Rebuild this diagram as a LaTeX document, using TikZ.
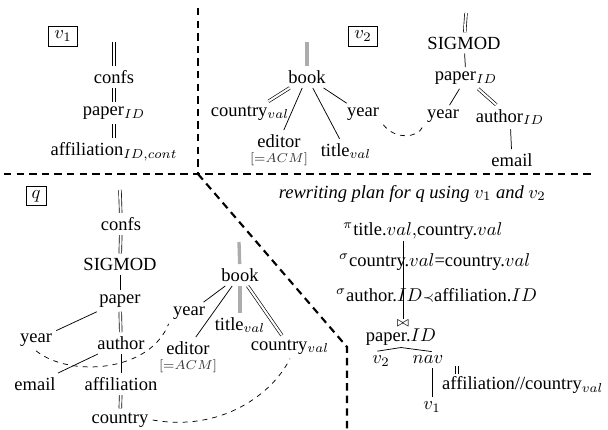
\documentclass[tikz,border=0pt]{standalone}
\usepackage{fontspec}
\setmainfont{Liberation Serif}
\usetikzlibrary{positioning}

\begin{document}
\begin{tikzpicture}[
    x=0.54pt, y=-0.54pt,
    lbl/.style={inner sep=2.2pt},
    vtag/.style={draw, thin, inner xsep=3pt, inner ysep=2.5pt},
    note/.style={inner sep=0.5pt, font=\scriptsize, text=black!80},
    tline/.style={draw, thin},
    dline/.style={draw, double, double distance=1.1pt, line width=0.35pt},
    gbar/.style={draw=gray!65, line width=1.8pt},
    link/.style={draw, thin, dash pattern=on 2.7pt off 2.7pt},
    divider/.style={draw, line width=1.15pt, dash pattern=on 4pt off 2.8pt}
]
\useasboundingbox (0,0) rectangle (608,430);

% panel borders
\coordinate (vtop) at (198,8);
\coordinate (cross) at (198,174);
\coordinate (hleft) at (4,174);
\coordinate (hright) at (594,174);
\coordinate (bend) at (347,347);
\coordinate (vbot) at (347,430);
\draw[divider] (vtop) -- (cross);
\draw[divider] (hleft) -- (hright);
\draw[divider] (cross) -- (bend) -- (vbot);

% view v1
\node[vtag] (v1box) at (63,36) {$v_1$};
\coordinate (v1top) at (114,42);
\node[lbl] (cf1) at (114,77) {confs};
\node[lbl] (pp1) at (114,113) {paper$_{ID}$};
\node[lbl] (af1) at (114,152) {affiliation$_{ID,cont}$};

\draw[dline] (v1top) -- (cf1);
\draw[dline] (cf1) -- (pp1);
\draw[dline] (pp1) -- (af1);

% view v2
\node[vtag] (v2box) at (363,36) {$v_2$};
\coordinate (bktop2) at (307,42);
\node[lbl] (bk2) at (307,77) {book};
\node[lbl] (cv2) at (250,113) {country$_{val}$};
\node[lbl] (ed2) at (279,141) {editor};
\node[note, below=0pt of ed2] (acm2) {$[{=}ACM]$};
\node[lbl] (ti2) at (346,151) {title$_{val}$};
\node[lbl] (yr2) at (363,114) {year};

\coordinate (sgtop2) at (466,13);
\node[lbl] (sg2) at (464,43) {SIGMOD};
\node[lbl] (pp2) at (466,78) {paper$_{ID}$};
\node[lbl] (yr3) at (443,116) {year};
\node[lbl] (au2) at (510,117) {author$_{ID}$};
\node[lbl] (em2) at (512,160) {email};

\draw[gbar] (bktop2) -- (bk2);
\draw[dline] (bk2) -- (cv2);
\draw[tline] (bk2) -- (ed2);
\draw[tline] (bk2) -- (ti2);
\draw[tline] (bk2) -- (yr2);
\draw[dline] (sgtop2) -- (sg2);
\draw[tline] (sg2) -- (pp2);
\draw[tline] (pp2) -- (yr3);
\draw[dline] (pp2) -- (au2);
\draw[tline] (au2) -- (em2);
\draw[link] (yr2.south east) .. controls (395,140) and (418,138) .. (yr3.south west);

% query q
\node[vtag, inner ysep=2pt] (qbox) at (36,196) {$q$};
\coordinate (qtop) at (120,190);
\node[lbl] (cfq) at (121,224) {confs};
\node[lbl] (sgq) at (120,264) {SIGMOD};
\node[lbl] (ppq) at (120,301) {paper};
\node[lbl] (yrq) at (36,340) {year};
\node[lbl] (auq) at (121,343) {author};
\node[lbl] (emq) at (35,384) {email};
\node[lbl] (afq) at (121,384) {affiliation};
\node[lbl] (coq) at (120,420) {country};

\coordinate (bktopq) at (239,242);
\node[lbl] (bkq) at (240,275) {book};
\node[lbl] (yrb) at (189,313) {year};
\node[lbl] (edq) at (188,348) {editor};
\node[note, below=0pt of edq] (acmq) {$[{=}ACM]$};
\node[lbl] (tiq) at (240,325) {title$_{val}$};
\node[lbl] (cvq) at (290,347) {country$_{val}$};

\draw[dline] (qtop) -- (cfq);
\draw[dline] (cfq) -- (sgq);
\draw[tline] (sgq) -- (ppq);
\draw[dline] (ppq) -- (auq);
\draw[tline] (ppq) -- (yrq);
\draw[tline] (auq) -- (afq);
\draw[tline] (auq) -- (emq);
\draw[dline] (afq) -- (coq);
\draw[gbar] (bktopq) -- (bkq);
\draw[tline] (bkq) -- (yrb);
\draw[tline] (bkq) -- (edq);
\draw[gbar] (bkq) -- (tiq);
\draw[dline] (bkq) -- (cvq);
\draw[link] (yrq.south) .. controls (70,378) and (150,372) .. (yrb.south west);
\draw[link] (coq.east) .. controls (220,432) and (272,395) .. (cvq.south);

% rewriting plan
\node[inner sep=1pt, anchor=base east] (rw) at (548,198) {\itshape rewriting plan for q using $v_1$ and $v_2$};
\node[inner sep=1pt, anchor=base west] (pi) at (341,235) {\textsuperscript{$\pi$}title.$val,$country.$val$};
\node[inner sep=1pt, anchor=base west] (s1) at (337,266) {\textsuperscript{$\sigma$}country.$val$=country.$val$};
\node[inner sep=1pt, anchor=base west] (s2) at (334,301) {\textsuperscript{$\sigma$}author.$ID${\scriptsize$\prec$}affiliation.$ID$};
\node[inner sep=0.5pt, font=\scriptsize] (jn) at (403,323) {$\bowtie$};
\node[inner sep=1pt] (jid) at (401,337) {paper.$ID$};
\node[lbl] (pv2) at (381,361) {$v_2$};
\node[lbl] (nav) at (428,360) {$nav$};
\node[lbl] (pv1) at (432,407) {$v_1$};
\node[inner sep=1pt, anchor=west] (nl) at (440,385) {affiliation//country$_{val}$};
\coordinate (nltop) at (457,366);

\draw[tline] (jn.north) -- (jn.north |- pi.south);
\draw[tline] ([xshift=-2pt]pv2.north) -- (jid.south) -- ([xshift=2pt]nav.north);
\draw[tline] (pv1.north) -- (pv1.north |- nav.south);
\draw[dline] (nltop) -- (nltop |- nl.north);

\end{tikzpicture}
\end{document}
